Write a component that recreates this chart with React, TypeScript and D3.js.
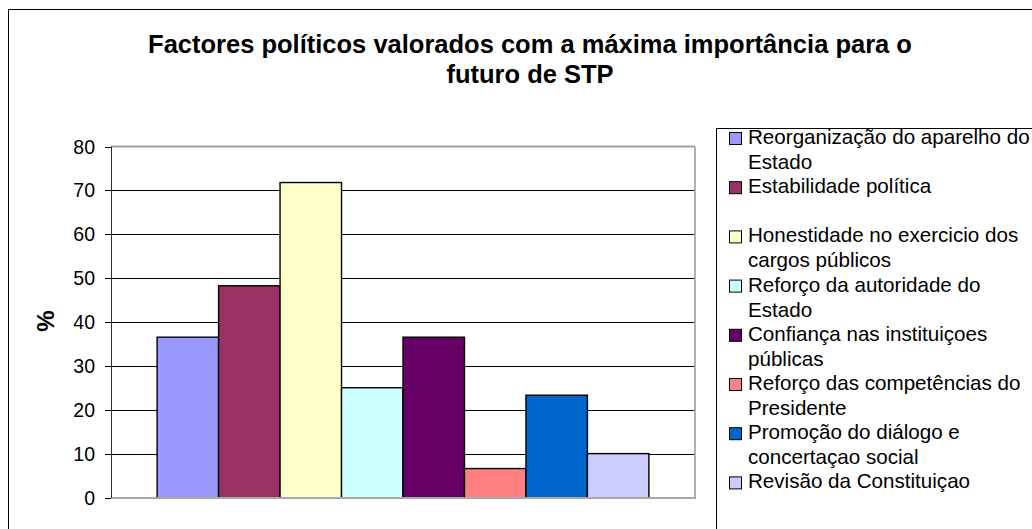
import React from "react";
import * as d3 from "d3";

const title = ["Factores políticos valorados com a máxima importância para o", "futuro de STP"];
const yAxisTitle = "%";
const seriesNames = [
  "Reorganização do aparelho do Estado",
  "Estabilidade política",
  "Honestidade no exercicio dos cargos públicos",
  "Reforço da autoridade do Estado",
  "Confiança nas instituiçoes públicas",
  "Reforço das competências do Presidente",
  "Promoção do diálogo e concertaçao social",
  "Revisão da Constituiçao",
];
const legendLines = [
  ["Reorganização do aparelho do", "Estado"],
  ["Estabilidade política"],
  ["Honestidade no exercicio dos", "cargos públicos"],
  ["Reforço da autoridade do", "Estado"],
  ["Confiança nas instituiçoes", "públicas"],
  ["Reforço das competências do", "Presidente"],
  ["Promoção do diálogo e", "concertaçao social"],
  ["Revisão da Constituiçao"],
];
const values = [36.6, 48.3, 71.8, 25.1, 36.6, 6.7, 23.4, 10.1];
const colors = ["#9999FF", "#993366", "#FFFFCC", "#CCFFFF", "#660066", "#FF8080", "#0066CC", "#CCCCFF"];
const yTicks = [0, 10, 20, 30, 40, 50, 60, 70, 80];

const W = 1032;
const H = 529;
const plot = { left: 111, right: 695, top: 146.5, bottom: 498 };

export default function App() {
  const y = d3.scaleLinear().domain([0, 80]).range([plot.bottom, plot.top]);
  const x = d3
    .scaleBand<string>()
    .domain(seriesNames)
    .range([plot.left, plot.right])
    .paddingInner(0)
    .paddingOuter(0.75);
  const font = "Arial, 'Liberation Sans', sans-serif";
  const legendX = 716;
  const legendTop = 128.5;
  const entryStep = 49.2;
  const firstLine = 137;

  return (
    <div style={{ position: "fixed", left: 0, top: 0, width: W, height: H, background: "#fff" }}>
      <svg width={W} height={H} style={{ display: "block" }} fontFamily={font}>
        <rect x={0} y={0} width={W} height={H} fill="#fff" />
        <rect x={8.5} y={9.5} width={1100} height={600} fill="#fff" stroke="#000" strokeWidth={1} />
        {title.map((t, i) => (
          <text key={i} x={530} y={53 + i * 30} textAnchor="middle" fontSize={25.5} fontWeight="bold" fill="#000">
            {t}
          </text>
        ))}
        {/* gridlines */}
        {yTicks.filter((t) => t > 0 && t < 80).map((t) => (
          <line key={t} x1={plot.left} x2={plot.right} y1={Math.round(y(t)) + 0.5} y2={Math.round(y(t)) + 0.5} stroke="#000" strokeWidth={1} />
        ))}
        {/* plot area border */}
        <line x1={plot.left} x2={plot.right} y1={plot.top} y2={plot.top} stroke="#a0a0a0" strokeWidth={2} />
        <line x1={plot.right} x2={plot.right} y1={plot.top} y2={plot.bottom} stroke="#b0b0b0" strokeWidth={2} />
        {/* bars */}
        {seriesNames.map((s, i) => (
          <rect
            key={s}
            x={x(s)}
            y={y(values[i])}
            width={x.bandwidth()}
            height={y(0) - y(values[i])}
            fill={colors[i]}
            stroke="#000"
            strokeWidth={1.4}
          />
        ))}
        {/* x axis */}
        <line x1={plot.left} x2={plot.right + 1} y1={plot.bottom} y2={plot.bottom} stroke="#a8a8a8" strokeWidth={2} />
        {/* y axis */}
        <line x1={plot.left + 0.5} x2={plot.left + 0.5} y1={plot.top} y2={plot.bottom} stroke="#333" strokeWidth={1} />
        {yTicks.map((t) => (
          <g key={t}>
            <line x1={105} x2={plot.left} y1={Math.round(y(t)) + 0.5} y2={Math.round(y(t)) + 0.5} stroke="#000" strokeWidth={1} />
            <text x={95} y={y(t) + 7} textAnchor="end" fontSize={19.5} fill="#000">
              {t}
            </text>
          </g>
        ))}
        <text transform="translate(54,321) rotate(-90)" textAnchor="middle" fontSize={24} fontWeight="bold" fill="#000">
          {yAxisTitle}
        </text>
        {/* legend */}
        <rect x={legendX + 0.5} y={legendTop} width={400} height={500} fill="#fff" stroke="#000" strokeWidth={1} />
        {legendLines.map((lines, i) => {
          const cy = firstLine + i * entryStep;
          return (
            <g key={i}>
              <rect x={729.5} y={cy - 4.5} width={12} height={12} fill={colors[i]} stroke="#000" strokeWidth={1} />
              {lines.map((ln, j) => (
                <text key={j} x={748} y={cy + 7 + j * 25} fontSize={20.6} fill="#000">
                  {ln}
                </text>
              ))}
            </g>
          );
        })}
      </svg>
    </div>
  );
}
